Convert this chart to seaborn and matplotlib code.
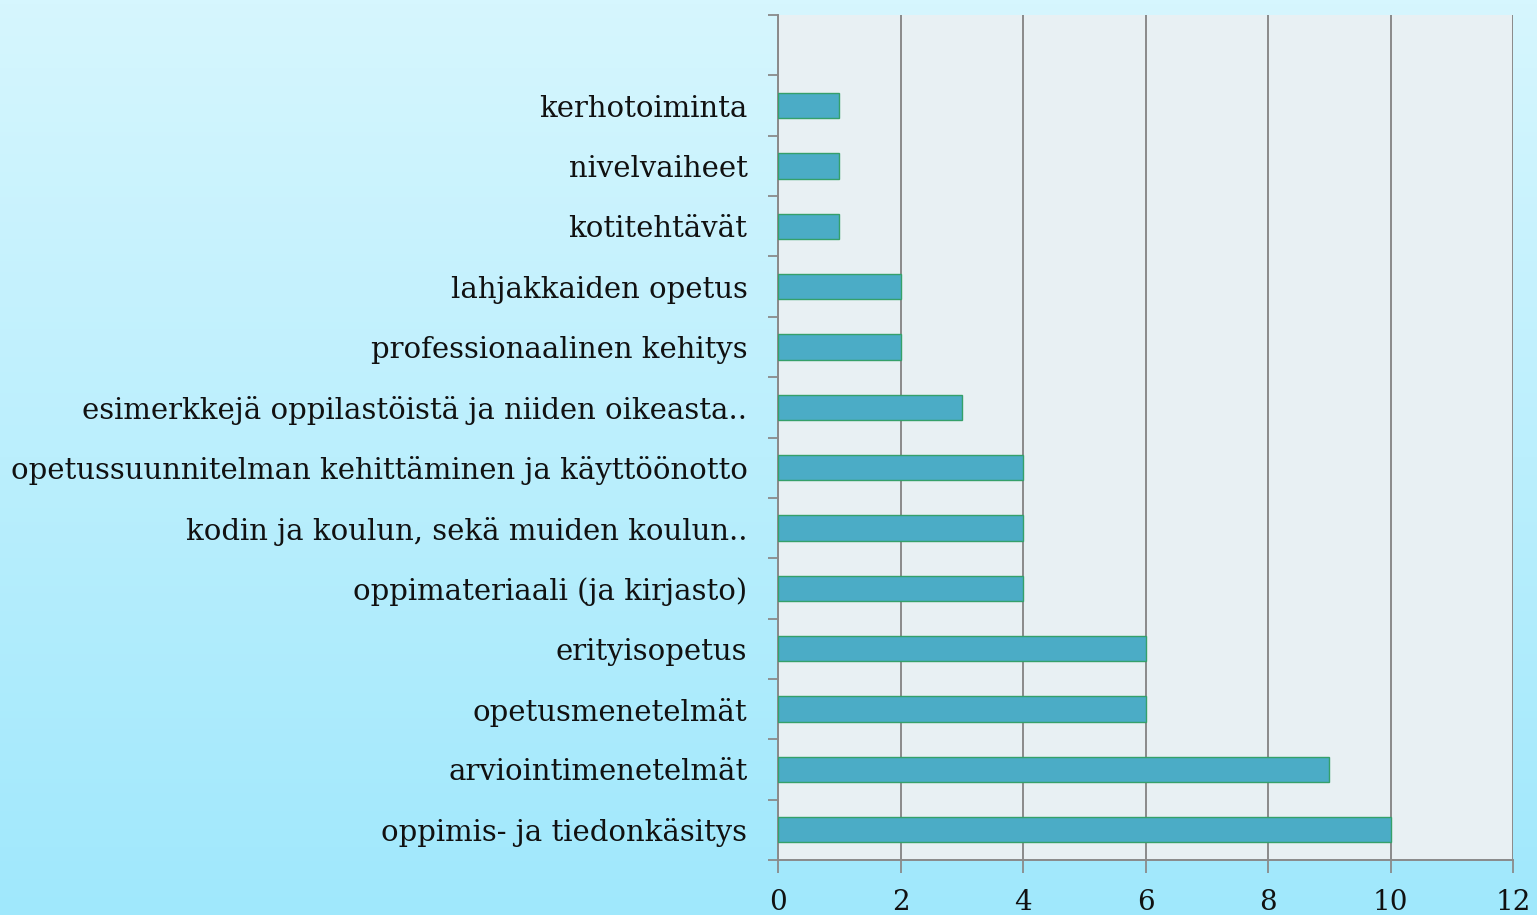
import numpy as np
import pandas as pd
import matplotlib
matplotlib.use("Agg")
import matplotlib.pyplot as plt
import seaborn as sns

categories = [
    "kerhotoiminta",
    "nivelvaiheet",
    "kotitehtävät",
    "lahjakkaiden opetus",
    "professionaalinen kehitys",
    "esimerkkejä oppilastöistä ja niiden oikeasta..",
    "opetussuunnitelman kehittäminen ja käyttöönotto",
    "kodin ja koulun, sekä muiden koulun..",
    "oppimateriaali (ja kirjasto)",
    "erityisopetus",
    "opetusmenetelmät",
    "arviointimenetelmät",
    "oppimis- ja tiedonkäsitys",
]
values = [1, 1, 1, 2, 2, 3, 4, 4, 4, 6, 6, 9, 10]
x_ticks = [0, 2, 4, 6, 8, 10, 12]

df = pd.DataFrame({"cat": categories, "val": values})
order = [" "] + categories  # empty slot at top, as in the original

sns.set_theme(style="white")
plt.rcParams["font.family"] = ["DejaVu Serif", "DejaVu Sans"]

fig = plt.figure(figsize=(15.37, 9.15), dpi=100)

# background gradient
bg = fig.add_axes([0, 0, 1, 1], zorder=-10)
top = np.array([214, 246, 254]) / 255
bot = np.array([160, 232, 252]) / 255
t = np.linspace(0, 1, 256)[:, None]
grad = top[None, :] * (1 - t) + bot[None, :] * t
bg.imshow(grad[:, None, :], aspect="auto", extent=[0, 1, 0, 1])
bg.axis("off")

ax = fig.add_axes([778 / 1537, 1 - 860 / 915, (1513 - 778) / 1537, (860 - 15) / 915])
ax.set_facecolor("#e8f0f3")

sns.barplot(data=df, y="cat", x="val", order=order, orient="h", ax=ax,
            color="#4bacc6", saturation=1, width=0.42,
            edgecolor="#35a06a", linewidth=1.0, zorder=3)

ax.set_xlim(0, 12)
ax.set_ylim(len(order) - 0.5, -0.5)
ax.set_xticks(x_ticks)
ax.set_xticklabels([str(v) for v in x_ticks], fontsize=20, color="#111111")
ax.set_xlabel("")
ax.set_ylabel("")
ax.grid(axis="x", color="#8a8a8a", linewidth=1.4, zorder=1)
ax.set_axisbelow(True)

ax.set_yticks(range(len(order)))
ax.set_yticklabels(order, fontsize=21, color="#111111")
ax.tick_params(axis="y", which="major", length=0, pad=22)
ax.set_yticks(np.arange(-0.5, len(order), 1), minor=True)
ax.tick_params(axis="y", which="minor", length=7, width=1.3, color="#8a8a8a", direction="out", left=True)
ax.tick_params(axis="x", which="major", length=9, width=1.3, color="#8a8a8a", direction="out", pad=12, bottom=True)

for s in ["top", "right"]:
    ax.spines[s].set_visible(False)
for s in ["left", "bottom"]:
    ax.spines[s].set_color("#8a8a8a")
    ax.spines[s].set_linewidth(1.4)

fig.savefig("out.png", dpi=100)
